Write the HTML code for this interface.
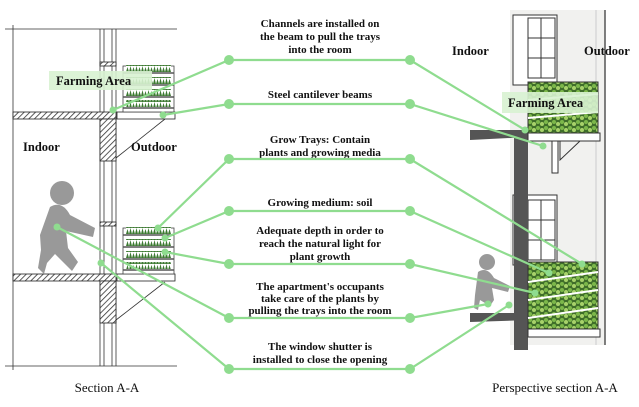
<!DOCTYPE html>
<html><head><meta charset="utf-8"><style>
html,body{margin:0;padding:0;background:#fff;}
svg{display:block}
.t{font-family:"Liberation Serif",serif;font-weight:bold;font-size:11px;fill:#111;text-anchor:middle}
.lb{font-family:"Liberation Serif",serif;font-weight:bold;font-size:12.5px;fill:#111}
.cap{font-family:"Liberation Serif",serif;font-size:13px;fill:#111}
.g{stroke:#8fdc8f;stroke-width:2.2;fill:none}
.d{fill:#8fdc8f}
</style></head><body>
<svg width="639" height="407" viewBox="0 0 639 407" xmlns="http://www.w3.org/2000/svg">
<defs>
<pattern id="h" width="4" height="4" patternUnits="userSpaceOnUse" patternTransform="rotate(45)">
<rect width="4" height="4" fill="#fff"/><line x1="0" y1="0" x2="0" y2="4" stroke="#333" stroke-width="1.6"/></pattern>
<pattern id="pl" width="8" height="6" patternUnits="userSpaceOnUse">
<rect width="8" height="6" fill="#3f6e2a"/><circle cx="2" cy="2" r="2" fill="#7cb84a"/><circle cx="6" cy="4" r="2" fill="#a7d26a"/></pattern>
<pattern id="lf" width="6" height="6" patternUnits="userSpaceOnUse">
<rect width="6" height="6" fill="#fff"/><path d="M0 6 L1.5 1 L3 6 L4.5 0 L6 6 Z" fill="#3d7a32"/></pattern>
</defs>
<!-- LEFT SECTION -->
<g stroke="#333" fill="none" stroke-width="0.8">
<line x1="13" y1="25" x2="13" y2="370"/>
<line x1="5" y1="29" x2="177" y2="29"/>
<line x1="5" y1="366" x2="177" y2="366"/>
<line x1="100" y1="29" x2="100" y2="366"/>
<line x1="104" y1="29" x2="104" y2="366"/>
<line x1="112" y1="29" x2="112" y2="366"/>
<line x1="116" y1="29" x2="116" y2="366"/>
<line x1="165" y1="119" x2="116" y2="158"/>
<line x1="165" y1="282" x2="116" y2="320"/>
</g>
<g stroke="#222" stroke-width="0.8">
<rect x="13" y="112" width="103" height="7" fill="url(#h)"/>
<rect x="100" y="119" width="16" height="42" fill="url(#h)"/>
<rect x="13" y="274" width="103" height="7" fill="url(#h)"/>
<rect x="100" y="281" width="16" height="42" fill="url(#h)"/>
<rect x="100" y="62" width="16" height="4" fill="url(#h)"/>
<rect x="100" y="222" width="16" height="4" fill="url(#h)"/>
<rect x="117" y="112" width="58" height="7" fill="#fff"/>
<rect x="117" y="274" width="58" height="7" fill="#fff"/>
</g>
<g stroke="#444" stroke-width="0.8">
<rect x="123" y="66" width="51" height="46" fill="#fff"/>
<rect x="123" y="228" width="51" height="46" fill="#fff"/>
</g>
<g fill="url(#lf)">
<rect x="126" y="65" width="45" height="7"/><rect x="126" y="77" width="45" height="7"/><rect x="126" y="89" width="45" height="7"/><rect x="126" y="100" width="45" height="7"/>
<rect x="126" y="227" width="45" height="7"/><rect x="126" y="239" width="45" height="7"/><rect x="126" y="251" width="45" height="7"/><rect x="126" y="262" width="45" height="7"/>
</g>
<g stroke="#555" stroke-width="1.5">
<line x1="123" y1="73" x2="174" y2="73"/><line x1="123" y1="85" x2="174" y2="85"/><line x1="123" y1="97" x2="174" y2="97"/><line x1="123" y1="108" x2="174" y2="108"/>
<line x1="123" y1="235" x2="174" y2="235"/><line x1="123" y1="247" x2="174" y2="247"/><line x1="123" y1="259" x2="174" y2="259"/><line x1="123" y1="270" x2="174" y2="270"/>
</g>
<rect x="49" y="71" width="103" height="19" fill="#d8f2d2" opacity="0.9"/>
<text class="lb" x="56" y="85">Farming Area</text>
<text class="lb" x="23" y="151">Indoor</text>
<text class="lb" x="131" y="151">Outdoor</text>
<!-- person left -->
<g fill="#999">
<circle cx="62" cy="193" r="12"/>
<path d="M50 207 Q62 200 70 215 L95 228 L93 237 L66 231 L68 248 L78 262 L72 271 L55 254 L47 263 L44 274 L38 268 L41 250 L40 235 Z"/>
</g>
<text class="cap" x="107" y="392" text-anchor="middle">Section A-A</text>

<!-- RIGHT PERSPECTIVE -->
<rect x="510" y="10" width="95" height="335" fill="#f1f1ef"/>
<line x1="605" y1="10" x2="605" y2="345" stroke="#555" stroke-width="1.5"/>
<line x1="596" y1="10" x2="596" y2="345" stroke="#ccc" stroke-width="1"/>
<rect x="513" y="15" width="44" height="70" fill="#fff" stroke="#333"/>
<g stroke="#333" fill="none"><rect x="528" y="18" width="27" height="60"/><line x1="541" y1="18" x2="541" y2="78"/><line x1="528" y1="38" x2="555" y2="38"/><line x1="528" y1="58" x2="555" y2="58"/></g>
<rect x="513" y="195" width="44" height="70" fill="#fff" stroke="#333"/>
<g stroke="#333" fill="none"><rect x="528" y="200" width="27" height="60"/><line x1="541" y1="200" x2="541" y2="260"/><line x1="528" y1="220" x2="555" y2="220"/><line x1="528" y1="240" x2="555" y2="240"/></g>
<path d="M470 130 L530 130 L530 137 L470 140 Z" fill="#555"/>
<rect x="514" y="137" width="14" height="185" fill="#555"/>
<path d="M470 313 L530 313 L530 320 L470 322 Z" fill="#555"/>
<rect x="514" y="320" width="14" height="30" fill="#555"/>
<rect x="528" y="82" width="70" height="52" fill="url(#pl)" stroke="#333"/>
<g stroke="#fff" stroke-width="2"><line x1="528" y1="100" x2="598" y2="94"/><line x1="528" y1="118" x2="598" y2="112"/></g>
<rect x="528" y="133" width="72" height="8" fill="#fff" stroke="#333"/>
<path d="M560 141 L580 141 L560 160 Z" fill="none" stroke="#333"/>
<rect x="552" y="141" width="6" height="32" fill="#fff" stroke="#333"/>
<rect x="528" y="262" width="70" height="68" fill="url(#pl)" stroke="#333"/>
<g stroke="#fff" stroke-width="2"><line x1="528" y1="282" x2="598" y2="272"/><line x1="528" y1="300" x2="598" y2="290"/><line x1="528" y1="318" x2="598" y2="308"/></g>
<rect x="528" y="329" width="72" height="8" fill="#fff" stroke="#333"/>
<rect x="502" y="92" width="96" height="21" fill="#d8f2d2" opacity="0.9"/>
<text class="lb" x="508" y="107">Farming Area</text>
<text class="lb" x="452" y="55">Indoor</text>
<text class="lb" x="584" y="55">Outdoor</text>
<g fill="#999">
<circle cx="487" cy="262" r="8"/>
<path d="M478 272 Q487 266 494 278 L510 286 L508 292 L492 288 L494 300 L490 306 L480 300 L478 310 L474 308 L475 295 Z"/>
</g>
<text class="cap" x="555" y="392" text-anchor="middle">Perspective section A-A</text>

<!-- TEXT -->
<text class="t" x="320" y="27">Channels are installed on</text>
<text class="t" x="320" y="40">the beam to pull the trays</text>
<text class="t" x="320" y="53">into the room</text>
<text class="t" x="320" y="98">Steel cantilever beams</text>
<text class="t" x="320" y="143">Grow Trays: Contain</text>
<text class="t" x="320" y="156">plants and growing media</text>
<text class="t" x="320" y="206">Growing medium: soil</text>
<text class="t" x="320" y="234">Adequate depth in order to</text>
<text class="t" x="320" y="247">reach the natural light for</text>
<text class="t" x="320" y="260">plant growth</text>
<text class="t" x="320" y="290">The apartment's occupants</text>
<text class="t" x="320" y="302">take care of the plants by</text>
<text class="t" x="320" y="314">pulling the trays into the room</text>
<text class="t" x="320" y="350">The window shutter is</text>
<text class="t" x="320" y="363">installed to close the opening</text>

<g class="g">
<polyline points="113,110 229,60 410,60 525,130"/>
<polyline points="163,115 229,104 410,104 543,146"/>
<polyline points="158,228 229,159 410,159 582,264"/>
<polyline points="165,238 229,211 410,211 549,273"/>
<polyline points="165,252 229,264 410,264 535,293"/>
<polyline points="57,227 229,318 410,318 488,304"/>
<polyline points="101,263 229,369 410,369 509,305"/>
</g>
<g class="d">
<circle cx="229" cy="60" r="5"/><circle cx="410" cy="60" r="5"/>
<circle cx="229" cy="104" r="5"/><circle cx="410" cy="104" r="5"/>
<circle cx="229" cy="159" r="5"/><circle cx="410" cy="159" r="5"/>
<circle cx="229" cy="211" r="5"/><circle cx="410" cy="211" r="5"/>
<circle cx="229" cy="264" r="5"/><circle cx="410" cy="264" r="5"/>
<circle cx="229" cy="318" r="5"/><circle cx="410" cy="318" r="5"/>
<circle cx="229" cy="369" r="5"/><circle cx="410" cy="369" r="5"/>
<circle cx="113" cy="110" r="3.5"/><circle cx="163" cy="115" r="3.5"/><circle cx="158" cy="228" r="3.5"/>
<circle cx="165" cy="238" r="3.5"/><circle cx="165" cy="252" r="3.5"/><circle cx="57" cy="227" r="3.5"/><circle cx="101" cy="263" r="3.5"/>
<circle cx="525" cy="130" r="3.5"/><circle cx="543" cy="146" r="3.5"/><circle cx="582" cy="264" r="3.5"/>
<circle cx="549" cy="273" r="3.5"/><circle cx="535" cy="293" r="3.5"/><circle cx="488" cy="304" r="3.5"/><circle cx="509" cy="305" r="3.5"/>
</g>
</svg>
</body></html>
